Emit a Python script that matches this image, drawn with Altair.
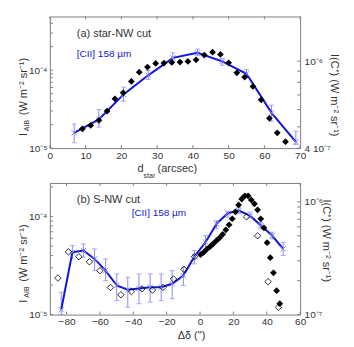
import altair as alt
import pandas as pd

FONT = "Liberation Sans"
W, H = 251, 132
BLUE = "#1414d8"
EBLUE = "#8a8af2"
GRAY = "#333333"
FRAME = "#808080"

# ---------------- Panel (a): star-NW cut ----------------
a_cii_d = [6.8, 13.7, 20.6, 27.5, 34.4, 41.3, 48.2, 55.0, 62.0, 68.8]
a_cii_I = [1.57e-5, 2.33e-5, 4.89e-5, 8.6e-5, 1.44e-4, 1.67e-4, 1.30e-4, 9.0e-5, 2.84e-5, 1.2e-5]
a_cii_lo = [1.17e-5, 1.86e-5, 4.0e-5, 7.6e-5, 1.30e-4, 1.54e-4, 1.16e-4, 7.97e-5, 2.22e-5, 1.11e-5]
a_cii_hi = [2.04e-5, 3.13e-5, 6.05e-5, 9.9e-5, 1.67e-4, 1.87e-4, 1.41e-4, 1.02e-4, 3.56e-5, 1.65e-5]

a_dia_d = [9.1, 11.4, 13.7, 16.0, 18.2, 20.5, 22.8, 25.0, 27.3, 29.6, 31.9, 34.1, 36.4,
           38.6, 40.9, 43.2, 45.5, 47.7, 50.0, 52.3, 54.5, 56.8, 59.1, 61.4, 63.6, 65.9]
a_dia_I = [4.9e-7, 5.08e-7, 5.36e-7, 5.91e-7, 6.72e-7, 7.16e-7, 8.07e-7, 8.9e-7, 9.39e-7,
           9.76e-7, 9.79e-7, 9.86e-7, 9.9e-7, 9.97e-7, 1.014e-6, 1.065e-6, 1.099e-6,
           1.073e-6, 9.82e-7, 8.84e-7, 8.45e-7, 7.66e-7, 6.65e-7, 5.47e-7, 4.7e-7, 4.28e-7]

a_x_domain = [0, 70]
a_x_ticks = [0, 10, 20, 30, 40, 50, 60, 70]
a_left_domain = [1e-5, 4.9e-4]
a_left_ticks = [1e-5, 2e-5, 3e-5, 4e-5, 5e-5, 6e-5, 7e-5, 8e-5, 9e-5, 1e-4, 2e-4, 3e-4, 4e-4]
a_left_major = [1e-5, 1e-4]
a_right_domain = [4e-7, 1.6e-6]
a_right_ticks = [4e-7, 5e-7, 6e-7, 7e-7, 8e-7, 9e-7, 1e-6]
a_right_major = [4e-7, 1e-6]

# ---------------- Panel (b): S-NW cut ----------------
b_cii_x = [-83.2, -76.5, -69.9, -63.2, -56.6, -49.9, -43.3, -36.6, -29.9, -23.3, -16.7,
           -10.0, -3.4, 3.3, 9.9, 16.6, 23.2, 29.9, 36.5, 43.2, 49.8]
b_cii_I = [1.12e-5, 4.32e-5, 4.5e-5, 3.7e-5, 2.81e-5, 1.98e-5, 1.79e-5, 1.85e-5, 1.9e-5,
           1.9e-5, 2.06e-5, 2.5e-5, 3.9e-5, 5.47e-5, 8.43e-5, 1.08e-4, 1.15e-4, 1.02e-4,
           8.1e-5, 6.4e-5, 4.68e-5]
b_cii_lo = [1.0e-5, 3.7e-5, 3.85e-5, 2.81e-5, 2.22e-5, 1.39e-5, 1.19e-5, 1.29e-5, 1.34e-5,
            1.39e-5, 1.45e-5, 1.98e-5, 3.29e-5, 4.68e-5, 7.5e-5, 9.84e-5, 1.07e-4, 9.84e-5,
            7.5e-5, 5.92e-5, 4.0e-5]
b_cii_hi = [1.69e-5, 5.06e-5, 5.26e-5, 4.68e-5, 3.7e-5, 2.6e-5, 2.4e-5, 2.6e-5, 2.6e-5,
            2.6e-5, 2.81e-5, 3.04e-5, 4.5e-5, 6.4e-5, 9.1e-5, 1.13e-4, 1.24e-4, 1.11e-4,
            8.75e-5, 6.92e-5, 5.47e-5]

b_open_x = [-85.2, -78.9, -72.6, -66.3, -60.0, -53.7, -47.4, -41.1, -34.8, -28.5, -22.2,
            -15.9, -9.6, -3.3, 27.9, 34.5, 40.8, 47.0]
b_open_I = [2.11e-7, 3.61e-7, 3.26e-7, 2.94e-7, 2.45e-7, 1.74e-7, 1.5e-7, 1.6e-7, 1.69e-7,
            1.65e-7, 1.74e-7, 2.07e-7, 2.52e-7, 3.26e-7, 7.36e-7, 5.0e-7, 1.96e-7, 1.16e-7]

b_fill_x = [0.3, 2.2, 4.1, 6.0, 7.9, 9.8, 11.7, 13.6, 15.5, 17.4, 19.3, 21.2, 23.1, 25.0,
            26.9, 28.8, 30.7, 32.6, 34.5, 36.4, 38.3, 40.2, 42.1, 44.0, 45.9, 47.8]
b_fill_I = [3.40e-7, 3.57e-7, 3.80e-7, 4.0e-7, 4.25e-7, 4.52e-7, 4.80e-7, 5.15e-7, 5.65e-7,
            6.25e-7, 7.08e-7, 8.16e-7, 9.4e-7, 1.06e-6, 1.13e-6, 1.13e-6, 1.04e-6, 9.6e-7,
            8.5e-7, 7.08e-7, 5.89e-7, 4.34e-7, 3.2e-7, 2.35e-7, 1.63e-7, 1.25e-7]

b_x_domain = [-90, 60]
b_x_ticks = [-80, -60, -40, -20, 0, 20, 40, 60]
b_left_domain = [1e-5, 2.2e-4]
b_left_ticks = [1e-5, 2e-5, 3e-5, 4e-5, 5e-5, 6e-5, 7e-5, 8e-5, 9e-5, 1e-4, 2e-4]
b_left_major = [1e-5, 1e-4]
b_right_domain = [1e-7, 1.47e-6]
b_right_ticks = [1e-7, 2e-7, 3e-7, 4e-7, 5e-7, 6e-7, 7e-7, 8e-7, 9e-7, 1e-6]
b_right_major = [1e-7, 1e-6]

left_expr = "datum.value < 5e-5 ? '10⁻⁵' : '10⁻⁴'"
a_right_expr = "datum.value < 7e-7 ? '4 10⁻⁷' : '10⁻⁶'"
b_right_expr = "datum.value < 5e-7 ? '10⁻⁷' : '10⁻⁶'"


def text_layer(t, x, y, size=11, color=GRAY, angle=0, align="left"):
    return alt.Chart(pd.DataFrame({"t": [t]})).mark_text(
        font=FONT, fontSize=size, color=color, angle=angle, align=align, baseline="middle"
    ).encode(text="t:N", x=alt.value(x), y=alt.value(y))


def build_panel(xd, x_ticks, ld, l_ticks, l_major, rd, r_ticks, r_major, r_expr,
                cx, cI, clo, chi, fx, fI, ox, oI, texts):
    xs = alt.Scale(domain=xd, nice=False, zero=False)
    ls = alt.Scale(type="log", domain=ld, nice=False)
    rs = alt.Scale(type="log", domain=rd, nice=False)
    xax = alt.Axis(values=x_ticks, tickSize=0, domain=False, grid=False, labelPadding=2,
                   labelFlush=False, labelOverlap=False)
    lax = alt.Axis(values=l_major, labelExpr=left_expr, tickSize=0, domain=False, grid=False,
                   labelPadding=3, orient="left", labelFlush=False, labelOverlap=False)
    rax = alt.Axis(values=r_major, labelExpr=r_expr, tickSize=0, domain=False, grid=False,
                   labelPadding=4, orient="right", labelFlush=False, labelOverlap=False)

    X = alt.X("x:Q", scale=xs, axis=xax, title=None)

    def LY(f):
        return alt.Y(f, scale=ls, axis=lax, title=None)

    def RY(f):
        return alt.Y(f, scale=rs, axis=rax, title=None)

    cdf = pd.DataFrame({"x": cx, "I": cI, "lo": clo, "hi": chi})
    base = alt.Chart(cdf)
    err = base.mark_rule(color=EBLUE, strokeWidth=1).encode(x=X, y=LY("lo:Q"), y2="hi:Q")
    cap_lo = base.mark_tick(color=EBLUE, orient="horizontal", size=5, thickness=1).encode(x=X, y=LY("lo:Q"))
    cap_hi = base.mark_tick(color=EBLUE, orient="horizontal", size=5, thickness=1).encode(x=X, y=LY("hi:Q"))
    line = base.mark_line(color=BLUE, strokeWidth=2).encode(x=X, y=LY("I:Q"))
    cross = base.mark_point(shape="M-1,-1L1,1M-1,1L1,-1", size=28, color=EBLUE, strokeWidth=1,
                            filled=False, opacity=1).encode(x=X, y=LY("I:Q"))

    ltdf = pd.DataFrame({"v": l_ticks})
    ltick = alt.Chart(ltdf).mark_rule(color=FRAME, strokeWidth=1).encode(
        y=LY("v:Q"), x=alt.value(0), x2=alt.value(3))
    xtdf = pd.DataFrame({"x": x_ticks})
    xtb = alt.Chart(xtdf).mark_rule(color=FRAME, strokeWidth=1).encode(
        x=X, y=alt.value(H), y2=alt.value(H - 3))
    xtt = alt.Chart(xtdf).mark_rule(color=FRAME, strokeWidth=1).encode(
        x=X, y=alt.value(0), y2=alt.value(3))

    left = alt.layer(err, cap_lo, cap_hi, line, cross, ltick, xtb, xtt, *texts)

    rtdf = pd.DataFrame({"v": r_ticks})
    rtick = alt.Chart(rtdf).mark_rule(color=FRAME, strokeWidth=1).encode(
        y=RY("v:Q"), x=alt.value(W - 3), x2=alt.value(W))
    layers = [rtick]
    if ox:
        odf = pd.DataFrame({"x": ox, "I": oI})
        layers.append(alt.Chart(odf).mark_point(shape="diamond", filled=False, color="black",
                                                 size=42, strokeWidth=0.8, opacity=1).encode(x=X, y=RY("I:Q")))
    fdf = pd.DataFrame({"x": fx, "I": fI})
    layers.append(alt.Chart(fdf).mark_point(shape="diamond", filled=True, color="black",
                                            size=46, opacity=1).encode(x=X, y=RY("I:Q")))
    right = alt.layer(*layers)

    return alt.layer(left, right).resolve_scale(y="independent").properties(width=W, height=H)


a_texts = [
    text_layer("(a) star-NW cut", 27, 18, 11),
    text_layer("[CII] 158 µm", 27, 38, 10, BLUE),
    text_layer("I", -26, 120, 11, angle=270),
    text_layer("AIB", -23, 115, 7, angle=270),
    text_layer("(W m⁻² sr⁻¹)", -26, 99, 11, angle=270),
    text_layer("I(C⁺) (W m⁻² sr⁻¹)", 285, 79, 11, angle=90, align="center"),
    text_layer("d", 88, 153, 11),
    text_layer("star", 94, 160, 7),
    text_layer("(arcsec)", 108, 153, 11),
]
b_texts = [
    text_layer("(b) S-NW cut", 27, 17, 11),
    text_layer("[CII] 158 µm", 82, 30, 10, BLUE),
    text_layer("I", -26, 120, 11, angle=270),
    text_layer("AIB", -23, 115, 7, angle=270),
    text_layer("(W m⁻² sr⁻¹)", -26, 99, 11, angle=270),
    text_layer("I(C⁺) (W m⁻² sr⁻¹)", 277, 58, 11, angle=90, align="center"),
    text_layer("Δδ (\")", 142, 153, 11, align="center"),
]

pa = build_panel(a_x_domain, a_x_ticks, a_left_domain, a_left_ticks, a_left_major,
                 a_right_domain, a_right_ticks, a_right_major, a_right_expr,
                 a_cii_d, a_cii_I, a_cii_lo, a_cii_hi, a_dia_d, a_dia_I, [], [], a_texts)
pb = build_panel(b_x_domain, b_x_ticks, b_left_domain, b_left_ticks, b_left_major,
                 b_right_domain, b_right_ticks, b_right_major, b_right_expr,
                 b_cii_x, b_cii_I, b_cii_lo, b_cii_hi, b_fill_x, b_fill_I, b_open_x, b_open_I, b_texts)

chart = alt.vconcat(pa, pb, spacing=35, bounds="flush").configure_view(
    stroke=FRAME, strokeWidth=1
).configure_axis(
    labelFont=FONT, labelFontSize=10, labelColor=GRAY
).properties(
    padding={"left": 9, "top": 7, "right": 5, "bottom": 5},
    background="white",
)

chart.save("out.html", embed_options={"renderer": "svg", "actions": False})
